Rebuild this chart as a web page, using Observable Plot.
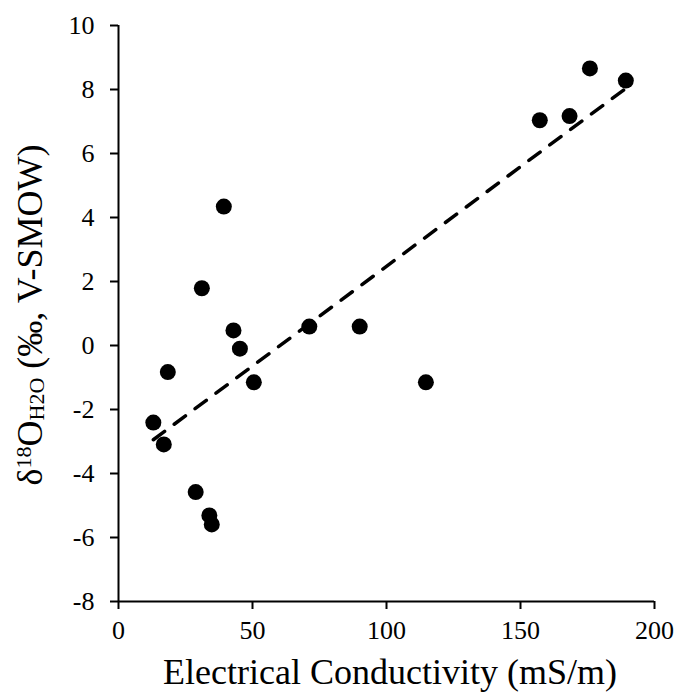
<!DOCTYPE html>
<html>
<head>
<meta charset="utf-8">
<script src="https://cdn.jsdelivr.net/npm/d3@7"></script>
<script src="https://cdn.jsdelivr.net/npm/@observablehq/plot@0.6"></script>
<style>
  html, body { margin: 0; padding: 0; background: white; }
  svg text { font-family: 'Liberation Serif', 'Times New Roman', serif !important; }
</style>
</head>
<body>
<div id="chart"></div>
<script>
// Electrical conductivity (mS/m)
const ec = [13.0, 16.9, 18.4, 28.8, 31.1, 33.9, 34.8, 39.3, 42.9, 45.3, 50.5, 71.2, 90.0, 114.7, 157.2, 168.3, 175.9, 189.3];
// δ18O of water (‰, V-SMOW)
const d18O = [-2.41, -3.09, -0.83, -4.58, 1.79, -5.31, -5.59, 4.34, 0.47, -0.10, -1.15, 0.59, 0.59, -1.15, 7.04, 7.17, 8.66, 8.28];

const xTicks = [0, 50, 100, 150, 200];
const yTicks = [-8, -6, -4, -2, 0, 2, 4, 6, 8, 10];
const xLabel = "Electrical Conductivity (mS/m)";

const data = ec.map((x, i) => ({x, y: d18O[i]}));
const font = "'Liberation Serif', 'Times New Roman', serif";

const W = 677, H = 696;
const mL = 118, mR = 23, mT = 25, mB = 95;

const chart = Plot.plot({
  width: W,
  height: H,
  marginLeft: mL,
  marginRight: mR,
  marginTop: mT,
  marginBottom: mB,
  x: {domain: [0, 200]},
  y: {domain: [-8, 10]},
  style: {fontFamily: font, fontSize: "26px", color: "black", background: "white", overflow: "visible"},
  marks: [
    Plot.axisX({ticks: xTicks, tickSize: 8, tickPadding: 11, strokeWidth: 2, tickFormat: d => String(d), label: null, fontSize: 26, fontFamily: font}),
    Plot.axisY({ticks: yTicks, tickSize: 8, tickPadding: 16, strokeWidth: 2, tickFormat: d => String(d), label: null, fontSize: 26, fontFamily: font}),
    Plot.ruleX([0], {stroke: "black", strokeWidth: 2}),
    Plot.ruleY([-8], {stroke: "black", strokeWidth: 2}),
    Plot.linearRegressionY(data, {x: "x", y: "y", ci: 0, stroke: "black", strokeWidth: 3.5, strokeDasharray: "14,12"}),
    Plot.dot(data, {x: "x", y: "y", r: 8, fill: "black", stroke: "none"})
  ]
});

const svg = d3.select(chart);
// make sure every tick label uses the serif face at the intended size
svg.selectAll("text")
  .attr("font-family", font)
  .attr("font-size", 26)
  .style("font-family", font, "important")
  .style("font-size", "26px", "important")
  .style("font-variant", "normal");

// x-axis title
svg.append("text")
  .attr("x", mL + (W - mL - mR) / 2 + 4)
  .attr("y", 684)
  .attr("text-anchor", "middle")
  .style("font-family", font)
  .style("font-size", "36px")
  .attr("fill", "black")
  .text(xLabel);

// y-axis title with superscript / subscript
const yl = svg.append("text")
  .attr("transform", `translate(42,${mT + (H - mT - mB) / 2 + 2}) rotate(-90)`)
  .attr("text-anchor", "middle")
  .style("font-family", font)
  .style("font-size", "36px")
  .attr("fill", "black");
yl.append("tspan").text("δ");
yl.append("tspan").attr("dy", "-11").style("font-size", "22px").text("18");
yl.append("tspan").attr("dy", "11").text("O");
yl.append("tspan").attr("dy", "2").style("font-size", "22px").text("H2O");
yl.append("tspan").attr("dy", "-2").text(" (‰, V-SMOW)");

document.getElementById("chart").appendChild(chart);
</script>
</body>
</html>
